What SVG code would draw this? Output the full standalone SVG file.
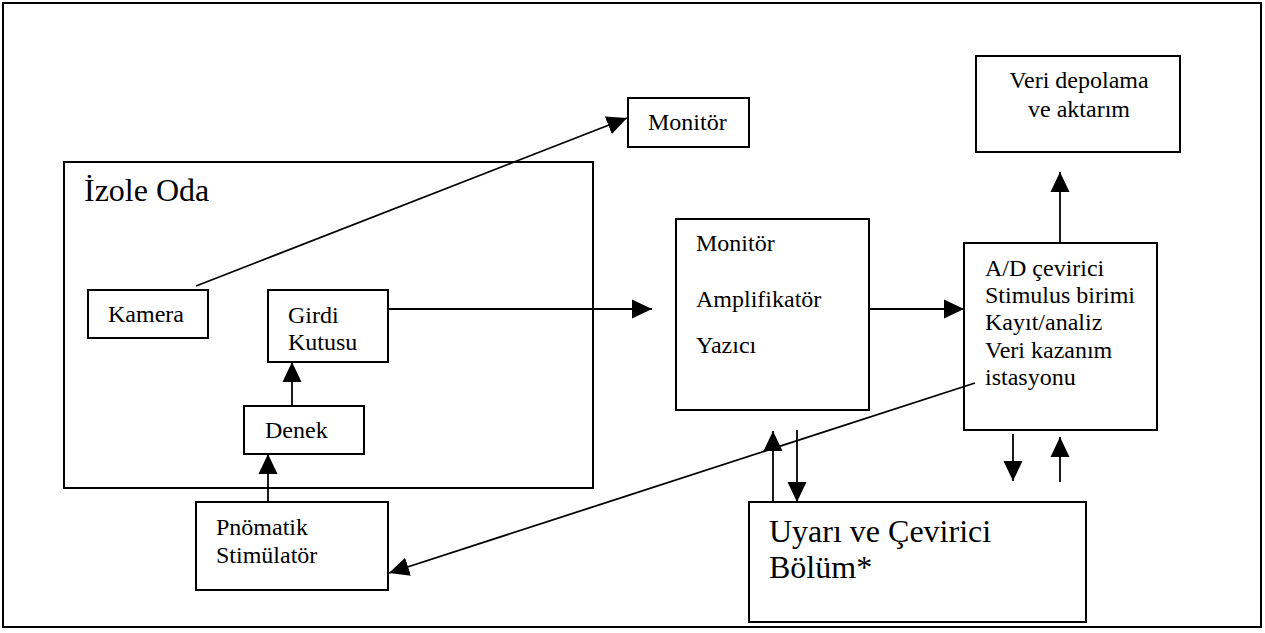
<svg xmlns="http://www.w3.org/2000/svg" width="1265" height="633" viewBox="0 0 1265 633">
<style>
.box{fill:none;stroke:#000;stroke-width:2}
.t{font-family:"Liberation Serif","Times New Roman",serif;font-size:24px;fill:#000}
.tl{font-family:"Liberation Serif","Times New Roman",serif;font-size:32px;fill:#000}
.c line{stroke:#000;stroke-width:1.8;fill:none}
</style>
<defs>
<marker id="ah" markerUnits="userSpaceOnUse" markerWidth="20" markerHeight="20" refX="20" refY="10" orient="auto" viewBox="0 0 20 20">
<path d="M0,0.5 L20,10 L0,19.5 z" fill="#000"/>
</marker>
</defs>
<rect x="0" y="0" width="1265" height="633" fill="#fff"/>
<rect id="frame" x="3" y="3" width="1258" height="624" class="box"/>
<g id="izole-oda">
<rect x="64" y="162" width="529" height="326" class="box"/>
<text x="84" y="201" class="tl">İzole Oda</text>
</g>
<g id="monitor-top">
<rect x="628" y="98" width="121" height="49" class="box"/>
<text x="648" y="130" class="t">Monitör</text>
</g>
<g id="veri-depolama">
<rect x="976" y="56" width="204" height="96" class="box"/>
<text x="1079" y="88" class="t" text-anchor="middle">Veri depolama</text>
<text x="1079" y="117" class="t" text-anchor="middle">ve aktarım</text>
</g>
<g id="kamera">
<rect x="88" y="290" width="120" height="48" class="box"/>
<text x="108" y="322" class="t">Kamera</text>
</g>
<g id="girdi-kutusu">
<rect x="268" y="290" width="120" height="72" class="box"/>
<text x="288" y="323" class="t">Girdi</text>
<text x="288" y="350" class="t">Kutusu</text>
</g>
<g id="denek">
<rect x="244" y="406" width="120" height="48" class="box"/>
<text x="265" y="438" class="t">Denek</text>
</g>
<g id="pnomatik">
<rect x="196" y="502" width="192" height="88" class="box"/>
<text x="216" y="535" class="t">Pnömatik</text>
<text x="216" y="563" class="t">Stimülatör</text>
</g>
<g id="monitor-amp">
<rect x="676" y="219" width="193" height="191" class="box"/>
<text x="696" y="251" class="t">Monitör</text>
<text x="696" y="307" class="t">Amplifikatör</text>
<text x="696" y="353" class="t">Yazıcı</text>
</g>
<g id="ad-cevirici">
<rect x="964" y="243" width="193" height="187" class="box"/>
<text x="985" y="276" class="t">A/D çevirici</text>
<text x="985" y="303" class="t">Stimulus birimi</text>
<text x="985" y="330" class="t">Kayıt/analiz</text>
<text x="985" y="358" class="t">Veri kazanım</text>
<text x="985" y="385" class="t">istasyonu</text>
</g>
<g id="uyari">
<rect x="749" y="502" width="337" height="120" class="box"/>
<text x="769" y="542" class="tl">Uyarı ve Çevirici</text>
<text x="769" y="578" class="tl">Bölüm*</text>
</g>
<g id="connectors" class="c">
<line x1="196" y1="286" x2="627" y2="118" marker-end="url(#ah)"/>
<line x1="388" y1="309" x2="652" y2="309" marker-end="url(#ah)"/>
<line x1="869" y1="309" x2="964" y2="309" marker-end="url(#ah)"/>
<line x1="1060" y1="243" x2="1060" y2="172" marker-end="url(#ah)"/>
<line x1="292" y1="406" x2="292" y2="362" marker-end="url(#ah)"/>
<line x1="268" y1="502" x2="268" y2="454" marker-end="url(#ah)"/>
<line x1="975" y1="383" x2="389" y2="573" marker-end="url(#ah)"/>
<line x1="773" y1="502" x2="773" y2="431" marker-end="url(#ah)"/>
<line x1="797" y1="430" x2="797" y2="502" marker-end="url(#ah)"/>
<line x1="1013" y1="434" x2="1013" y2="481" marker-end="url(#ah)"/>
<line x1="1060" y1="482" x2="1060" y2="437" marker-end="url(#ah)"/>
</g>
</svg>
